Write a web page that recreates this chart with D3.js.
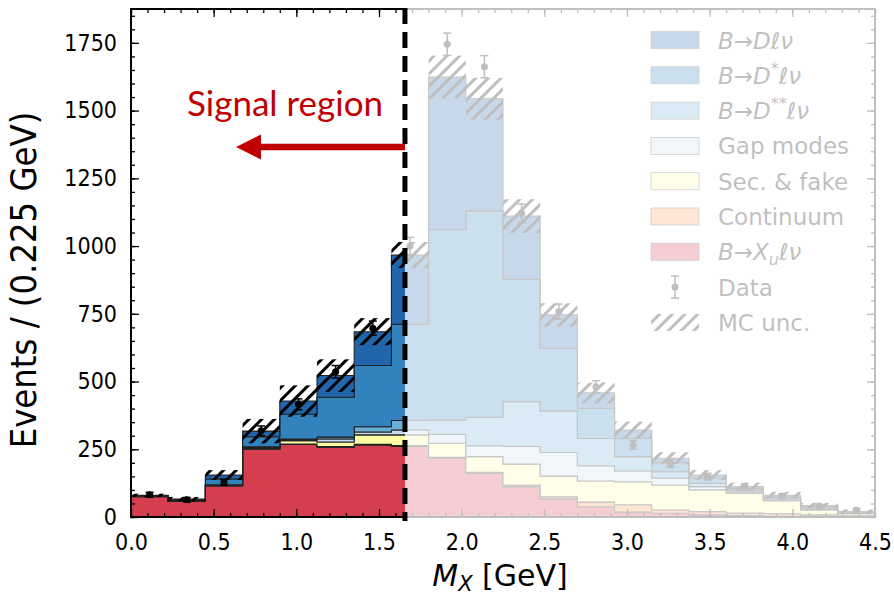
<!DOCTYPE html>
<html><head><meta charset="utf-8">
<script src="https://cdn.jsdelivr.net/npm/d3@7"></script>
<style>body{margin:0;background:#fff}svg{display:block}</style>
</head><body>
<svg id="chart" width="894" height="596"></svg>
<script>
// ---------------- data ----------------
const binLow = [0,0.225,0.45,0.675,0.9,1.125,1.35,1.575,1.8,2.025,2.25,2.475,2.7,2.925,3.15,3.375,3.6,3.825,4.05,4.275];
const binWidth = 0.225;
const xuLnu   = [75,57,115,250,268,258,265,260,217,161,112,67,38,18,14,8,5,3,2,1];
const continuum = [1,1,1,1,1,2,3,4,3,4,6,8,17,27,12,12,10,9,6,3];
const secFake = [1,1,1,4,13,17,35,39,52,58,77,76,78,85,92,80,73,48,18,8];
const gapModes = [0,0,1,2,3,11,11,18,33,40,65,87,56,40,26,12,5,3,4,2];
const dssLnu  = [1,1,1,2,3,7,19,35,53,105,166,153,101,53,23,12,7,6,6,2];
const dstLnu  = [1,3,21,37,91,147,226,355,702,762,451,232,111,67,33,19,6,6,3,2];
const dLnu    = [1,3,15,21,49,80,125,256,564,414,234,123,57,31,17,12,6,5,3,2];
const dataVal = [82,64,128,318,416,536,697,1000,1745,1662,1121,758,481,266,198,149,112,77,41,26];
const dataErr = [9,8,11,18,20,23,26,32,41,41,34,28,22,16,14,12,11,9,6,5];
const mcUnc   = [6,8,18,45,58,60,50,48,79,77,62,43,38,31,22,18,15,13,10,8];
const signalCut = 1.657;
const xTicks = [0,0.5,1,1.5,2,2.5,3,3.5,4,4.5];
const yTicks = [0,250,500,750,1000,1250,1500,1750];
const xMinor = d3.range(0, 4.5001, 0.1);
const yMinor = d3.range(0, 1876, 50);

// stack order bottom -> top
const components = [
  {key:"xu",   vals:xuLnu,     color:"#d53e4f"},
  {key:"cont", vals:continuum, color:"#fd9b55"},
  {key:"sec",  vals:secFake,   color:"#fffaa5"},
  {key:"gap",  vals:gapModes,  color:"#c6dbef"},
  {key:"dss",  vals:dssLnu,    color:"#6baed6"},
  {key:"dst",  vals:dstLnu,    color:"#3182bd"},
  {key:"d",    vals:dLnu,      color:"#2166ac"}
];

// ---------------- setup ----------------
const svg = d3.select("#chart");
const L = 131, R = 875, T = 9, B = 517;
const x = d3.scaleLinear().domain([0,4.5]).range([L,R]);
const y = d3.scaleLinear().domain([0,1875]).range([B,T]);

const defs = svg.append("defs");
const pat = defs.append("pattern").attr("id","hatch").attr("patternUnits","userSpaceOnUse")
  .attr("width",9).attr("height",9).attr("patternTransform","rotate(45)");
pat.append("line").attr("x1",4.5).attr("y1",-1).attr("x2",4.5).attr("y2",10)
  .attr("stroke","#000").attr("stroke-width",3);
defs.append("clipPath").attr("id","plotclip").append("rect")
  .attr("x",L).attr("y",T).attr("width",R-L).attr("height",B-T);

// stacked cumulative
const nb = binLow.length;
let lower = new Array(nb).fill(0);
const layers = components.map(c => {
  const lo = lower.slice();
  const hi = lo.map((v,i)=>v + c.vals[i]);
  lower = hi;
  return {...c, lo, hi};
});
const total = lower;

const g = svg.append("g").attr("clip-path","url(#plotclip)");
layers.forEach(l => {
  const pts = binLow.map((b,i)=>({x:b, lo:l.lo[i], hi:l.hi[i]}));
  pts.push({x:binLow[nb-1]+binWidth, lo:l.lo[nb-1], hi:l.hi[nb-1]});
  const area = d3.area().curve(d3.curveStepAfter)
    .x(d=>x(d.x)).y0(d=>y(d.lo)).y1(d=>y(d.hi));
  g.append("path").datum(pts).attr("d",area)
    .attr("fill",l.color).attr("stroke","#222").attr("stroke-width",1.1);
});

// MC uncertainty hatch
g.selectAll("rect.unc").data(binLow).join("rect").attr("class","unc")
  .attr("x",d=>x(d)).attr("width",(d)=>x(d+binWidth)-x(d))
  .attr("y",(d,i)=>y(total[i]+mcUnc[i]))
  .attr("height",(d,i)=>y(total[i]-mcUnc[i])-y(total[i]+mcUnc[i]))
  .attr("fill","url(#hatch)");

// data points
const dg = g.append("g");
binLow.forEach((b,i)=>{
  const cx = x(b+binWidth/2);
  dg.append("line").attr("x1",cx).attr("x2",cx).attr("y1",y(dataVal[i]-dataErr[i])).attr("y2",y(dataVal[i]+dataErr[i]))
    .attr("stroke","#000").attr("stroke-width",1.5);
  [dataVal[i]-dataErr[i], dataVal[i]+dataErr[i]].forEach(v=>{
    dg.append("line").attr("x1",cx-4).attr("x2",cx+4).attr("y1",y(v)).attr("y2",y(v))
      .attr("stroke","#000").attr("stroke-width",1.5);
  });
  dg.append("circle").attr("cx",cx).attr("cy",y(dataVal[i])).attr("r",3.5).attr("fill","#000");
});

// ---------------- axes ----------------
const tickFont = "'DejaVu Sans Condensed','DejaVu Sans',sans-serif";
function styleAxis(sel){
  sel.select(".domain").remove();
  sel.selectAll(".tick line").attr("stroke","#000").attr("stroke-width",1.3);
  sel.selectAll("text").attr("font-family",tickFont).attr("font-size",23).attr("fill","#000")
    .style("font-stretch","condensed");
}
svg.append("g").attr("transform",`translate(${L},0)`)
  .call(d3.axisLeft(y).tickValues(yTicks).tickFormat(d3.format("d")).tickSize(-8).tickPadding(14)).call(styleAxis);
svg.append("g").attr("transform",`translate(${L},0)`)
  .call(d3.axisLeft(y).tickValues(yMinor).tickFormat("").tickSize(-4)).call(styleAxis);
svg.append("g").attr("transform",`translate(${R},0)`)
  .call(d3.axisRight(y).tickValues(yTicks).tickFormat("").tickSize(-8)).call(styleAxis);
svg.append("g").attr("transform",`translate(${R},0)`)
  .call(d3.axisRight(y).tickValues(yMinor).tickFormat("").tickSize(-4)).call(styleAxis);
svg.append("g").attr("transform",`translate(0,${B})`)
  .call(d3.axisBottom(x).tickValues(xTicks).tickFormat(d3.format(".1f")).tickSize(-8).tickPadding(17)).call(styleAxis);
svg.append("g").attr("transform",`translate(0,${B})`)
  .call(d3.axisBottom(x).tickValues(xMinor).tickFormat("").tickSize(-4)).call(styleAxis);
svg.append("g").attr("transform",`translate(0,${T})`)
  .call(d3.axisTop(x).tickValues(xTicks).tickFormat("").tickSize(-8)).call(styleAxis);
svg.append("g").attr("transform",`translate(0,${T})`)
  .call(d3.axisTop(x).tickValues(xMinor).tickFormat("").tickSize(-4)).call(styleAxis);
svg.append("rect").attr("x",L).attr("y",T).attr("width",R-L).attr("height",B-T)
  .attr("fill","none").attr("stroke","#000").attr("stroke-width",2);

// ---------------- legend ----------------
const legendItems = [
  {parts:[["B","i"],["→",""],["D","i"],["ℓν","i"]], color:"#2166ac"},
  {parts:[["B","i"],["→",""],["D","i"],["*","sup"],["ℓν","i"]], color:"#3182bd"},
  {parts:[["B","i"],["→",""],["D","i"],["**","sup"],["ℓν","i"]], color:"#6baed6"},
  {parts:[["Gap modes",""]], color:"#c6dbef"},
  {parts:[["Sec. & fake",""]], color:"#fffaa5"},
  {parts:[["Continuum",""]], color:"#fd9b55"},
  {parts:[["B","i"],["→",""],["X","i"],["u","sub"],["ℓν","i"]], color:"#d53e4f"}
];
const lg = svg.append("g");
const rowY = i => 40 + i*35.3;
legendItems.forEach((it,i)=>{
  lg.append("rect").attr("x",651).attr("y",rowY(i)-8.5).attr("width",48).attr("height",17)
    .attr("fill",it.color).attr("stroke","#444").attr("stroke-width",0.8);
  const t = lg.append("text").attr("x",718).attr("y",rowY(i)+8.5)
    .attr("font-family","'DejaVu Sans',sans-serif").attr("font-size",23).attr("fill","#000");
  let shift = 0;
  it.parts.forEach(([s,st])=>{
    const ts = t.append("tspan").text(s);
    if(st==="i") ts.attr("font-style","italic");
    if(st==="sup"){ ts.attr("font-size",16).attr("dy",-10).attr("font-style","italic"); shift = -10; }
    else if(st==="sub"){ ts.attr("font-size",16).attr("dy",5).attr("font-style","italic"); shift = 5; }
    else if(shift!==0){ ts.attr("dy",-shift); shift = 0; }
  });
});
// data legend
const dly = rowY(7);
lg.append("line").attr("x1",675).attr("x2",675).attr("y1",dly-11).attr("y2",dly+11).attr("stroke","#000").attr("stroke-width",1.5);
[dly-11,dly+11].forEach(v=>lg.append("line").attr("x1",671).attr("x2",679).attr("y1",v).attr("y2",v).attr("stroke","#000").attr("stroke-width",1.5));
lg.append("circle").attr("cx",675).attr("cy",dly).attr("r",3.5).attr("fill","#000");
lg.append("text").attr("x",718).attr("y",dly+8.5).attr("font-family","'DejaVu Sans',sans-serif").attr("font-size",23).text("Data");
const mly = rowY(8);
lg.append("rect").attr("x",651).attr("y",mly-8.5).attr("width",48).attr("height",17).attr("fill","url(#hatch)");
lg.append("text").attr("x",718).attr("y",mly+8.5).attr("font-family","'DejaVu Sans',sans-serif").attr("font-size",23).text("MC unc.");

// ---------------- fade overlay ----------------
svg.append("rect").attr("x",x(signalCut)).attr("y",T-3).attr("width",R+3-x(signalCut)).attr("height",B-T+6)
  .attr("fill","#fff").attr("fill-opacity",0.75);

// dashed cut line
svg.append("line").attr("x1",x(signalCut)).attr("x2",x(signalCut)).attr("y1",T-1).attr("y2",B+4)
  .attr("stroke","#000").attr("stroke-width",5).attr("stroke-dasharray","16,8");

// signal region annotation
svg.append("line").attr("x1",x(signalCut)).attr("x2",258).attr("y1",147).attr("y2",147)
  .attr("stroke","#c00000").attr("stroke-width",6.5);
svg.append("path").attr("d","M236,147 L261,134.5 L261,159.5 Z").attr("fill","#c00000");
svg.append("text").attr("x",187).attr("y",116).attr("font-family","Lato,'Open Sans',sans-serif")
  .attr("font-size",35).attr("fill","#c00000").text("Signal region");

// axis titles
svg.append("text").attr("transform","translate(36,280) rotate(-90)").attr("text-anchor","middle")
  .attr("font-family",tickFont).style("font-stretch","condensed").attr("font-size",36).attr("fill","#000")
  .text("Events / (0.225 GeV)");
const xt = svg.append("text").attr("x",500).attr("y",586).attr("text-anchor","middle")
  .attr("font-family","'DejaVu Sans',sans-serif").attr("font-size",30).attr("fill","#000");
xt.append("tspan").attr("font-style","italic").text("M");
xt.append("tspan").attr("font-style","italic").attr("font-size",21).attr("dy",5).text("X");
xt.append("tspan").attr("dy",-5).text(" [GeV]");
</script>
</body></html>
